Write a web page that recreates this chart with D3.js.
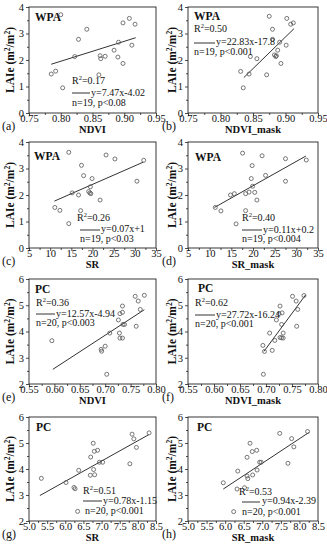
<!DOCTYPE html>
<html>
<head>
<meta charset="utf-8">
<script src="https://cdn.jsdelivr.net/npm/d3@7"></script>
<style>
body { margin: 0; background: #fff; }
svg { display: block; font-family: "Liberation Serif", "Times New Roman", serif; }
</style>
</head>
<body>
<svg width="327" height="550"></svg>
<script>
// values
var aX = [0.785, 0.792, 0.803, 0.800, 0.822, 0.828, 0.841, 0.860, 0.862, 0.863, 0.870, 0.884, 0.890, 0.891, 0.898, 0.898, 0.908, 0.912, 0.917];
var aY = [1.47, 1.58, 0.95, 3.71, 2.13, 2.78, 3.16, 1.44, 2.16, 2.05, 2.14, 2.37, 2.11, 2.67, 1.87, 3.40, 3.57, 2.56, 3.35];
var bX = [0.831, 0.835, 0.844, 0.846, 0.856, 0.871, 0.875, 0.880, 0.880, 0.883, 0.885, 0.886, 0.888, 0.891, 0.893, 0.901, 0.902, 0.908, 0.912];
var bY = [1.57, 0.95, 1.47, 2.13, 2.05, 1.44, 3.65, 3.16, 2.78, 2.19, 2.13, 2.16, 2.37, 2.67, 1.87, 2.56, 3.57, 3.35, 3.40];
var cX = [11.1, 12.3, 14.4, 14.4, 15.2, 16.7, 17.2, 17.4, 17.9, 19.1, 19.4, 19.5, 19.6, 19.9, 21.8, 23.2, 25.3, 30.5, 32.1];
var cY = [1.53, 1.42, 0.92, 3.61, 2.08, 2.00, 1.41, 3.12, 2.73, 2.13, 2.08, 2.31, 2.05, 2.62, 1.81, 3.51, 3.36, 2.52, 3.31];
var dX = [11.3, 12.6, 16.1, 14.8, 15.7, 17.6, 18.3, 18.3, 19.1, 19.8, 19.6, 19.9, 20.4, 20.9, 22.1, 22.9, 27.5, 27.5, 32.3];
var dY = [1.53, 1.40, 0.91, 2.00, 2.05, 3.58, 2.05, 1.41, 2.11, 3.11, 2.62, 2.33, 2.10, 1.81, 3.48, 2.74, 2.52, 3.37, 3.32];
var eX = [0.595, 0.693, 0.692, 0.700, 0.703, 0.709, 0.726, 0.729, 0.728, 0.729, 0.734, 0.734, 0.734, 0.735, 0.738, 0.759, 0.761, 0.765, 0.769, 0.777];
var eY = [3.65, 3.25, 3.32, 3.44, 2.37, 3.94, 4.44, 4.68, 3.94, 3.75, 3.75, 4.97, 4.73, 4.27, 4.27, 5.34, 4.20, 5.16, 4.84, 5.38];
var fX = [0.694, 0.697, 0.695, 0.707, 0.712, 0.717, 0.720, 0.725, 0.727, 0.727, 0.730, 0.731, 0.730, 0.733, 0.733, 0.751, 0.758, 0.759, 0.761, 0.773];
var fY = [3.47, 3.24, 2.37, 3.94, 3.28, 3.66, 4.44, 4.68, 4.97, 3.77, 3.76, 4.71, 4.27, 3.94, 3.75, 5.34, 5.16, 4.20, 4.84, 5.37];
var gX = [5.34, 6.02, 6.24, 6.27, 6.34, 6.37, 6.69, 6.70, 6.77, 6.78, 6.81, 6.80, 6.89, 6.94, 7.03, 7.78, 7.84, 7.89, 7.96, 8.31];
var gY = [3.64, 3.48, 3.29, 3.24, 2.37, 3.95, 3.76, 4.46, 4.99, 3.98, 3.78, 4.68, 4.72, 4.26, 4.26, 4.20, 5.34, 5.16, 4.83, 5.39];
var hX = [5.95, 6.32, 6.52, 6.23, 6.34, 6.59, 6.61, 6.74, 6.59, 6.67, 6.73, 6.85, 6.86, 6.93, 6.97, 7.47, 7.69, 7.79, 7.85, 8.22];
var hY = [3.47, 3.23, 3.28, 2.36, 3.92, 3.73, 3.63, 3.77, 4.45, 4.99, 4.67, 4.72, 3.96, 4.26, 4.26, 5.37, 4.22, 5.17, 4.85, 5.44];

// fitted line ends [x0, y0, x1, y1]
var fitLines = [
  [0.785, 1.84, 0.918, 2.84],
  [0.836, 1.34, 0.913, 3.18],
  [11.0, 1.77, 32.0, 3.24],
  [11.1, 1.53, 32.2, 3.47],
  [0.597, 2.56, 0.777, 4.83],
  [0.696, 3.24, 0.776, 5.39],
  [5.3, 2.98, 8.3, 5.32],
  [5.95, 3.23, 8.25, 5.40]
];

var letters = ["(a)", "(b)", "(c)", "(d)", "(e)", "(f)", "(g)", "(h)"];
var sites = ["WPA", "WPA", "WPA", "WPA", "PC", "PC", "PC", "PC"];
var xTitles = ["NDVI", "NDVI_mask", "SR", "SR_mask", "NDVI", "NDVI_mask", "SR", "SR_mask"];
var r2Labels = ["0.17", "0.50", "0.26", "0.40", "0.36", "0.62", "0.51", "0.53"];
var eqLabels = ["y=7.47x-4.02", "y=22.83x-17.8", "y=0.07x+1", "y=0.11x+0.2",
                "y=12.57x-4.94", "y=27.72x-16.24", "y=0.78x-1.15", "y=0.94x-2.39"];
var nLabels = ["n=19, p<0.08", "n=19, p<0.001", "n=19, p<0.03", "n=19, p<0.004",
               "n=20, p<0.003", "n=20, p<0.001", "n=20, p<0.001", "n=20, p<0.001"];

var xDomains = [[0.75, 0.95], [0.75, 0.95], [5, 35], [5, 35], [0.55, 0.80], [0.55, 0.80], [5.0, 8.5], [5.0, 8.5]];
var xTickVals = [
  [0.75, 0.80, 0.85, 0.90, 0.95], [0.75, 0.80, 0.85, 0.90, 0.95],
  [5, 10, 15, 20, 25, 30, 35], [5, 10, 15, 20, 25, 30, 35],
  [0.55, 0.60, 0.65, 0.70, 0.75, 0.80], [0.55, 0.60, 0.65, 0.70, 0.75, 0.80],
  [5.0, 5.5, 6.0, 6.5, 7.0, 7.5, 8.0, 8.5], [5.0, 5.5, 6.0, 6.5, 7.0, 7.5, 8.0, 8.5]
];
var xFormats = [".2f", ".2f", "d", "d", ".2f", ".2f", ".1f", ".1f"];
var yDomains = [[0, 4], [0, 4], [0, 4], [0, 4], [2, 6], [2, 6], [2, 6], [2, 6]];

var xsAll = [aX, bX, cX, dX, eX, fX, gX, hX];
var ysAll = [aY, bY, cY, dY, eY, fY, gY, hY];

// layout
var colLeft = [29, 188], colWidth = [127, 130];
var rowTop = [7, 142, 279, 417], rowHeight = [106, 106, 105, 104];
var titleX = [14, 176];
var letterX = [2, 162];
// text positions inside each plot: site, r2, legend line, n
var notes = [
  {site: [6, 14], r2: [43, 77], line: [43, 61, 86], eq: [62, 89], n: [43, 99]},
  {site: [6, 13], r2: [6, 25], line: [6, 27, 36], eq: [28, 38], n: [6, 48]},
  {site: [5, 18], r2: [48, 79], line: [51, 71, 88], eq: [72, 90], n: [51, 100]},
  {site: [7, 19], r2: [54, 79], line: [54, 74, 88], eq: [75, 91], n: [54, 100]},
  {site: [6, 14], r2: [7, 27], line: [7, 26, 35], eq: [27, 38], n: [7, 47]},
  {site: [10, 13], r2: [7, 27], line: [7, 27, 36], eq: [28, 39], n: [7, 48]},
  {site: [7, 14], r2: [54, 77], line: [54, 73, 84], eq: [74, 87], n: [56, 97]},
  {site: [9, 14], r2: [51, 78], line: [54, 72, 85], eq: [74, 87], n: [54, 98]}
];

var svg = d3.select("svg");
svg.append("rect").attr("width", 327).attr("height", 550).attr("fill", "#fff");

function halfSteps(vals) {
  var out = [];
  for (var i = 0; i < vals.length - 1; i++) out.push((vals[i] + vals[i + 1]) / 2);
  return out;
}

d3.range(8).forEach(function(i) {
  var col = i % 2, row = Math.floor(i / 2);
  var left = colLeft[col], top = rowTop[row], w = colWidth[col], h = rowHeight[row];
  var g = svg.append("g").attr("transform", "translate(" + left + "," + top + ")");

  var x = d3.scaleLinear().domain(xDomains[i]).range([0, w]);
  var y = d3.scaleLinear().domain(yDomains[i]).range([h, 0]);
  var yTicks = d3.range(yDomains[i][0], yDomains[i][1] + 1);

  var xAxis = d3.axisBottom(x).tickValues(xTickVals[i]).tickFormat(d3.format(xFormats[i])).tickSize(3);
  var xMinor = d3.axisBottom(x).tickValues(halfSteps(xTickVals[i])).tickFormat("").tickSize(2);
  var yAxis = d3.axisLeft(y).tickValues(yTicks).tickFormat(d3.format("d")).tickSize(3).tickPadding(2);
  var yMinor = d3.axisLeft(y).tickValues(halfSteps(yTicks)).tickFormat("").tickSize(2);

  [[xAxis, "translate(0," + h + ")"], [xMinor, "translate(0," + h + ")"], [yAxis, null], [yMinor, null]]
    .forEach(function(a) {
      var ag = g.append("g").call(a[0]);
      if (a[1]) ag.attr("transform", a[1]);
      ag.select(".domain").remove();
      ag.selectAll("line").attr("stroke", "#222").attr("stroke-width", 0.8);
      ag.selectAll("text").attr("font-family", "Liberation Serif, serif")
        .attr("font-size", 10.5).attr("fill", "#111");
    });
  // pull the x tick labels up close to the axis
  g.selectAll("g.tick text").filter(function() { return this.getAttribute("y") > 0; })
    .attr("y", 1.5).attr("dy", "0.71em");

  g.append("rect").attr("width", w).attr("height", h)
    .attr("fill", "none").attr("stroke", "#222").attr("stroke-width", 0.9);

  // fitted line
  var fl = fitLines[i];
  g.append("line")
    .attr("x1", x(fl[0])).attr("y1", y(fl[1]))
    .attr("x2", x(fl[2])).attr("y2", y(fl[3]))
    .attr("stroke", "#333").attr("stroke-width", 1);

  // points
  g.selectAll("circle.pt").data(d3.zip(xsAll[i], ysAll[i])).join("circle")
    .attr("class", "pt")
    .attr("cx", function(d) { return x(d[0]); })
    .attr("cy", function(d) { return y(d[1]); })
    .attr("r", 2)
    .attr("fill", "none").attr("stroke", "#555").attr("stroke-width", 0.8);

  var nt = notes[i];
  g.append("text").attr("x", nt.site[0]).attr("y", nt.site[1])
    .attr("font-size", 11.5).attr("font-weight", "bold").attr("fill", "#111").text(sites[i]);

  var r2 = g.append("text").attr("x", nt.r2[0]).attr("y", nt.r2[1])
    .attr("font-size", 10).attr("fill", "#111");
  r2.append("tspan").text("R");
  r2.append("tspan").attr("font-size", 6.5).attr("dy", -4).text("2");
  r2.append("tspan").attr("dy", 4).text("=" + r2Labels[i]);

  g.append("line").attr("x1", nt.line[0]).attr("x2", nt.line[1])
    .attr("y1", nt.line[2]).attr("y2", nt.line[2])
    .attr("stroke", "#333").attr("stroke-width", 1);
  g.append("text").attr("x", nt.eq[0]).attr("y", nt.eq[1])
    .attr("font-size", 10).attr("fill", "#111").text(eqLabels[i]);
  g.append("text").attr("x", nt.n[0]).attr("y", nt.n[1])
    .attr("font-size", 10).attr("fill", "#111").text(nLabels[i]);

  // axis titles
  g.append("text").attr("x", w / 2).attr("y", h + 20)
    .attr("text-anchor", "middle").attr("font-size", 10.5).attr("font-weight", "bold")
    .attr("fill", "#111").text(xTitles[i]);

  var yt = svg.append("text")
    .attr("transform", "translate(" + titleX[col] + "," + (top + h / 2) + ") rotate(-90)")
    .attr("text-anchor", "middle").attr("font-size", 11.5).attr("font-weight", "bold").attr("fill", "#111");
  yt.append("tspan").text("LAIe (m");
  yt.append("tspan").attr("font-size", 7.5).attr("dy", -4.5).text("2");
  yt.append("tspan").attr("dy", 4.5).text("/m");
  yt.append("tspan").attr("font-size", 7.5).attr("dy", -4.5).text("2");
  yt.append("tspan").attr("dy", 4.5).text(")");

  svg.append("text").attr("x", letterX[col]).attr("y", top + h + 17)
    .attr("font-size", 12).attr("fill", "#111").text(letters[i]);
});
</script>
</body>
</html>
